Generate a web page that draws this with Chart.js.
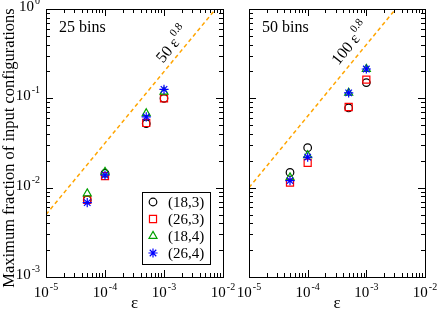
<!DOCTYPE html>
<html lang="en">
<head>
<meta charset="UTF-8">
<title>Maximum fraction of input configurations</title>
<script src="https://cdn.jsdelivr.net/npm/chart.js"></script>
<style>
  body { margin: 0; background: #fff; }
  .wrap { position: relative; width: 438px; height: 311px; }
  canvas { position: absolute; left: 0; top: 0; }
</style>
</head>
<body>
<div class="wrap">
  <canvas id="left" width="438" height="311"></canvas>
  <canvas id="right" width="438" height="311"></canvas>
</div>
<script>
// data
const eps = [5e-5, 1e-4, 5e-4, 1e-3];
const seriesNames = ['(18,3)', '(26,3)', '(18,4)', '(26,4)'];

const bins25_18_3 = [0.0073, 0.0145, 0.052, 0.100];
const bins25_26_3 = [0.0073, 0.0135, 0.053, 0.100];
const bins25_18_4 = [0.0086, 0.0150, 0.068, 0.118];
const bins25_26_4 = [0.0068, 0.0138, 0.062, 0.126];

const bins50_18_3 = [0.0148, 0.028, 0.078, 0.150];
const bins50_26_3 = [0.0114, 0.019, 0.080, 0.162];
const bins50_18_4 = [0.0130, 0.023, 0.115, 0.213];
const bins50_26_4 = [0.0120, 0.022, 0.115, 0.213];

// guide lines 50 eps^0.8 and 100 eps^0.8 (end points)
const guideX25 = [1e-5, 0.00752];
const guideY25 = [0.005, 1];
const guideX50 = [1e-5, 0.00316];
const guideY50 = [0.01, 1];

const xTickExps = [-5, -4, -3, -2];
const yTickExps = [-3, -2, -1, 0];

const SERIF = '"Liberation Serif", "Times New Roman", serif';
const styles = [
  { color: '#000000', pointStyle: 'circle', radius: 3.8 },
  { color: '#ff0000', pointStyle: 'rect', radius: 5 },
  { color: '#00a000', pointStyle: 'triangle', radius: 4.6 },
  { color: '#0000ff', pointStyle: 'star', radius: 4.6 }
];

function pts(xs, ys) { return xs.map((x, i) => ({ x: x, y: ys[i] })); }

function sciLabel(ctx, exp, x, y, align) {
  const base = '10', sup = String(exp);
  ctx.font = '15px ' + SERIF;
  const wb = ctx.measureText(base).width;
  ctx.font = '10px ' + SERIF;
  const ws = ctx.measureText(sup).width;
  const total = wb + ws + 1;
  const x0 = align === 'center' ? x - total / 2 : x - total;
  ctx.textAlign = 'left';
  ctx.textBaseline = 'alphabetic';
  ctx.font = '15px ' + SERIF;
  ctx.fillText(base, x0, y);
  ctx.font = '10px ' + SERIF;
  ctx.fillText(sup, x0 + wb + 1, y - 7);
}

const frame = {
  id: 'frame',
  afterDraw(chart, args, o) {
    const { ctx, chartArea: a, scales: { x, y } } = chart;
    ctx.save();
    ctx.strokeStyle = '#000';
    ctx.fillStyle = '#000';
    ctx.lineWidth = 1;
    ctx.strokeRect(a.left + 0.5, a.top + 0.5, a.right - a.left, a.bottom - a.top);

    ctx.beginPath();
    xTickExps.forEach(e => {
      for (let m = 1; m <= 9; m++) {
        const v = m * Math.pow(10, e);
        if (v > x.max * 1.0001) break;
        const px = Math.round(x.getPixelForValue(v)) + 0.5;
        const len = m === 1 ? 7 : 4;
        ctx.moveTo(px, a.bottom); ctx.lineTo(px, a.bottom - len);
        ctx.moveTo(px, a.top); ctx.lineTo(px, a.top + len);
      }
    });
    yTickExps.forEach(e => {
      for (let m = 1; m <= 9; m++) {
        const v = m * Math.pow(10, e);
        if (v > y.max * 1.0001) break;
        const py = Math.round(y.getPixelForValue(v)) + 0.5;
        const len = m === 1 ? 7 : 4;
        ctx.moveTo(a.left, py); ctx.lineTo(a.left + len, py);
        ctx.moveTo(a.right, py); ctx.lineTo(a.right - len, py);
      }
    });
    ctx.stroke();

    xTickExps.forEach(e => sciLabel(ctx, e, x.getPixelForValue(Math.pow(10, e)), a.bottom + 20, 'center'));
    if (o.yLabels) {
      yTickExps.forEach(e => sciLabel(ctx, e, a.left - 6, y.getPixelForValue(Math.pow(10, e)) + 2, 'right'));
      ctx.save();
      ctx.translate(10, 148);
      ctx.rotate(-Math.PI / 2);
      ctx.font = '16.5px ' + SERIF;
      ctx.textAlign = 'center';
      ctx.textBaseline = 'middle';
      ctx.fillText('Maximum fraction of input configurations', 0, 0);
      ctx.restore();
    }

    ctx.font = '17px ' + SERIF;
    ctx.textAlign = 'center';
    ctx.textBaseline = 'alphabetic';
    ctx.fillText('ε', (a.left + a.right) / 2, 308);

    ctx.font = '16px ' + SERIF;
    ctx.textAlign = 'left';
    ctx.fillText(o.title, a.left + 13, 32);

    // rotated guide label
    const g = chart.data.datasets[0].data;
    const p0 = { x: x.getPixelForValue(g[0].x), y: y.getPixelForValue(g[0].y) };
    const p1 = { x: x.getPixelForValue(g[1].x), y: y.getPixelForValue(g[1].y) };
    const ang = Math.atan2(p1.y - p0.y, p1.x - p0.x);
    ctx.save();
    ctx.translate(o.guidePos[0], o.guidePos[1]);
    ctx.rotate(ang);
    ctx.font = '16px ' + SERIF;
    const w1 = ctx.measureText(o.guideText).width;
    ctx.font = '11px ' + SERIF;
    const w2 = ctx.measureText('0.8').width;
    const start = -(w1 + w2 + 1) / 2;
    ctx.textBaseline = 'middle';
    ctx.font = '16px ' + SERIF;
    ctx.fillText(o.guideText, start, 0);
    ctx.font = '11px ' + SERIF;
    ctx.fillText('0.8', start + w1 + 1, -7);
    ctx.restore();

    if (o.legend) {
      const lx = 142, ly = 192, lw = 68, lh = 72;
      ctx.strokeRect(lx + 0.5, ly + 0.5, lw, lh);
      ctx.font = '15px ' + SERIF;
      ctx.textBaseline = 'middle';
      seriesNames.forEach((name, i) => {
        const s = styles[i];
        const yy = ly + 10 + i * 17;
        ctx.strokeStyle = s.color;
        ctx.fillStyle = 'rgba(0,0,0,0)';
        ctx.lineWidth = 1.2;
        Chart.helpers.drawPoint(ctx, { pointStyle: s.pointStyle, radius: s.radius, rotation: 0, borderWidth: 1.2 }, lx + 11, yy);
        ctx.fillStyle = '#000';
        ctx.fillText(name, lx + 26, yy + 1);
      });
    }
    ctx.restore();
  }
};

function makeChart(id, series, gx, gy, opts, pad) {
  const datasets = [{
    type: 'line',
    data: pts(gx, gy),
    borderColor: '#ffa500',
    borderWidth: 1.5,
    borderDash: [4, 3],
    pointRadius: 0,
    showLine: true,
    order: 10
  }];
  series.forEach((ys, i) => {
    const s = styles[i];
    datasets.push({
      label: seriesNames[i],
      data: pts(eps, ys),
      pointStyle: s.pointStyle,
      pointRadius: s.radius,
      pointBorderWidth: 1.2,
      borderColor: s.color,
      backgroundColor: 'rgba(0,0,0,0)',
      order: 5 - i
    });
  });
  return new Chart(document.getElementById(id), {
    type: 'scatter',
    data: { datasets: datasets },
    options: {
      responsive: false,
      animation: false,
      events: [],
      layout: { padding: pad },
      scales: {
        x: { type: 'logarithmic', min: 1e-5, max: 1e-2, display: false },
        y: { type: 'logarithmic', min: 1e-3, max: 1, display: false }
      },
      plugins: { legend: { display: false }, tooltip: { enabled: false }, frame: opts }
    },
    plugins: [frame]
  });
}

makeChart('left', [bins25_18_3, bins25_26_3, bins25_18_4, bins25_26_4], guideX25, guideY25,
  { yLabels: true, legend: true, title: '25 bins', guideText: '50 ε', guidePos: [173, 45] },
  { left: 46, right: 215, top: 9, bottom: 34 });
makeChart('right', [bins50_18_3, bins50_26_3, bins50_18_4, bins50_26_4], guideX50, guideY50,
  { yLabels: false, legend: false, title: '50 bins', guideText: '100 ε', guidePos: [351, 44] },
  { left: 249, right: 13, top: 9, bottom: 34 });
</script>
</body>
</html>
